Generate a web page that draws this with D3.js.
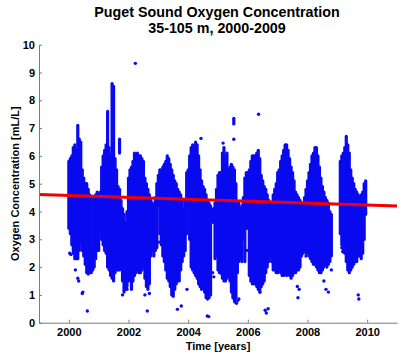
<!DOCTYPE html>
<html><head><meta charset="utf-8">
<script src="https://cdn.jsdelivr.net/npm/d3@7"></script>
<style>
html,body{margin:0;padding:0;background:#fff;}
svg{display:block;font-family:"Liberation Sans",Arial,Helvetica,sans-serif;}
</style></head>
<body>
<svg id="chart" width="413" height="356"></svg>
<script>
// ---- data ----
const titleLines = ["Puget Sound Oxygen Concentration", "35-105 m, 2000-2009"];
const xLabel = "Time [years]";
const yLabel = "Oxygen Concentration [mL/L]";
const xTicks = [2000, 2002, 2004, 2006, 2008, 2010];
const yTicks = [0,1,2,3,4,5,6,7,8,9,10];

// dense observation bands: time, lowest and highest value at that time
const bandYear = [
 2000.00,2000.05,2000.10,2000.15,2000.20,2000.25,2000.30,2000.35,2000.40,2000.45,2000.50,2000.55,2000.60,2000.65,2000.70,2000.75,2000.80,2000.85,2000.90,2000.95,
 2001.00,2001.05,2001.10,2001.15,2001.20,2001.25,2001.30,2001.35,2001.40,2001.45,2001.50,2001.55,2001.60,2001.65,2001.70,2001.75,2001.80,2001.85,2001.90,2001.95,
 2002.00,2002.05,2002.10,2002.15,2002.20,2002.25,2002.30,2002.35,2002.40,2002.45,2002.50,2002.55,2002.60,2002.65,2002.70,2002.75,2002.80,2002.85,2002.90,2002.95,
 2003.00,2003.05,2003.10,2003.15,2003.20,2003.25,2003.30,2003.35,2003.40,2003.45,2003.50,2003.55,2003.60,2003.65,2003.70,2003.75,2003.80,2003.85,2003.90,2003.95,
 2004.00,2004.05,2004.10,2004.15,2004.20,2004.25,2004.30,2004.35,2004.40,2004.45,2004.50,2004.55,2004.60,2004.65,2004.70,2004.75,2004.80,2004.85,2004.90,2004.95,
 2005.00,2005.05,2005.10,2005.15,2005.20,2005.25,2005.30,2005.35,2005.40,2005.45,2005.50,2005.55,2005.60,2005.65,2005.70,2005.75,2005.80,2005.85,2005.90,2005.95,
 2006.00,2006.05,2006.10,2006.15,2006.20,2006.25,2006.30,2006.35,2006.40,2006.45,2006.50,2006.55,2006.60,2006.65,2006.70,2006.75,2006.80,2006.85,2006.90,2006.95,
 2007.00,2007.05,2007.10,2007.15,2007.20,2007.25,2007.30,2007.35,2007.40,2007.45,2007.50,2007.55,2007.60,2007.65,2007.70,2007.75,2007.80,2007.85,2007.90,2007.95,
 2008.00,2008.05,2008.10,2008.15,2008.20,2008.25,2008.30,2008.35,2008.40,2008.45,2008.50,2008.55,2008.60,2008.65,2008.70,2008.75,2008.80,
 2009.10,2009.15,2009.20,2009.25,2009.30,2009.35,2009.40,2009.45,2009.50,2009.55,2009.60,2009.65,2009.70,2009.75,2009.80,2009.85,2009.90,2009.95,
 2001.70,2005.53
];
const bandLow = [
 3.4,3.2,2.8,2.5,2.3,2.3,2.3,2.6,2.9,2.6,2.4,2.1,1.8,1.75,1.8,1.8,1.9,2.0,2.3,2.6,
 2.6,3.3,3.0,2.8,2.6,2.5,2.0,1.9,1.7,1.6,1.5,1.8,1.9,1.9,1.9,2.1,1.5,1.1,1.2,1.3,
 1.5,1.6,1.2,1.5,1.7,1.8,1.9,1.8,1.8,1.9,2.0,1.6,1.3,1.2,1.4,2.4,2.6,2.4,2.6,2.7,
 4.2,3.2,2.8,2.4,2.2,1.9,1.6,1.5,1.3,1.0,0.95,1.2,1.4,1.5,1.5,1.9,2.2,2.4,2.6,3.2,
 4.2,3.0,2.0,1.9,1.8,1.7,1.6,1.4,1.3,1.2,1.3,1.1,0.9,0.85,0.9,1.0,3.8,3.6,2.3,2.4,
 1.9,1.8,1.8,1.6,1.5,1.5,1.6,1.7,1.5,1.1,0.9,0.8,0.9,1.8,2.2,2.3,2.2,3.0,2.2,3.4,
 3.4,1.7,1.5,1.4,1.4,1.4,1.3,1.2,1.1,1.3,1.4,1.5,1.8,2.0,2.2,2.4,2.2,1.9,1.9,1.8,
 1.8,1.9,1.8,1.7,1.7,1.8,1.7,1.8,1.7,1.6,1.7,1.8,1.8,1.9,1.9,2.0,2.4,2.5,2.6,2.5,
 2.5,2.4,2.3,2.2,2.1,2.1,2.0,1.9,1.8,1.8,1.9,2.0,2.1,2.0,2.1,2.2,2.4,
 3.2,2.8,2.6,2.5,2.2,1.9,1.8,1.9,2.0,2.1,2.2,2.2,2.4,2.4,2.3,2.5,3.0,3.9,
 6.1,7.15
];
const bandHigh = [
 5.8,5.9,6.0,6.3,6.4,6.2,7.1,6.6,6.5,5.5,5.2,5.0,5.0,4.8,4.6,4.5,4.4,4.5,4.6,4.7,
 4.6,4.7,5.6,6.0,6.2,6.4,7.6,6.3,6.0,8.6,8.5,5.9,5.5,4.9,4.8,4.4,4.1,3.9,3.6,4.0,
 5.2,5.5,5.6,5.8,6.1,6.0,6.1,6.0,6.0,5.9,5.8,5.2,5.0,4.8,4.6,4.4,4.3,4.2,4.5,5.0,
 5.3,5.5,5.5,5.6,5.7,5.8,6.0,5.9,5.7,5.5,5.3,5.1,5.0,4.8,4.7,4.6,4.4,4.1,4.4,5.4,
 5.5,6.0,6.3,6.4,6.3,6.5,6.4,6.0,5.5,5.1,4.9,4.8,4.6,4.4,4.3,4.2,4.0,4.1,4.3,4.8,
 5.3,5.4,5.4,6.1,6.3,6.0,6.1,5.5,5.6,5.7,5.6,5.5,5.0,4.3,4.3,4.1,4.2,4.5,5.2,5.4,
 5.4,5.5,5.8,6.0,6.0,6.0,6.1,6.2,5.9,5.3,5.1,4.9,4.8,4.6,4.4,4.3,4.3,4.6,4.8,5.0,
 5.4,5.5,5.8,6.0,6.2,6.4,6.4,6.2,5.9,5.6,5.4,5.1,4.7,4.6,4.5,4.4,4.3,4.3,4.5,4.8,
 5.1,5.4,5.7,6.0,6.1,6.3,6.3,6.0,5.6,5.2,4.9,4.7,4.5,4.4,4.3,4.0,3.9,
 5.8,6.0,6.1,6.3,6.7,6.4,6.1,5.5,5.2,5.0,4.8,4.7,4.6,4.5,4.6,4.7,5.0,5.1,
 6.6,7.35
];

// isolated observations
const pointYear = [2000.03,2000.07,2000.22,2000.30,2000.33,2000.45,2000.47,2000.62,2001.80,2001.95,
 2002.23,2002.55,2002.63,2002.70,2003.64,2003.77,2003.96,2004.43,2004.64,2004.69,
 2005.08,2005.13,2005.17,2005.53,2005.56,2005.62,2005.66,2005.70,2006.36,2006.41,
 2006.58,2006.62,2006.68,2007.02,2007.66,2007.68,2007.72,2007.95,2008.55,2008.62,
 2008.70,2008.80,2009.15,2009.18,2009.70,2009.72,
 2004.82,2004.86,2003.02,2005.97];
const pointValue = [2.5,2.45,1.9,1.6,1.5,1.05,1.1,0.42,1.0,1.2,
 9.33,1.0,0.42,1.05,0.48,0.6,1.2,6.63,0.24,0.22,
 1.8,1.75,6.46,6.6,0.75,0.7,0.8,0.85,7.5,1.1,
 0.45,0.35,0.5,2.0,1.3,0.9,1.2,2.4,1.5,1.2,
 1.1,1.9,2.7,2.55,1.0,0.85,
 1.8,1.65,2.9,2.6];

// linear trend line end points
const trendYear = [1999, 2011];
const trendValue = [4.61, 4.20];

// ---- drawing ----
const svg = d3.select("#chart");
const x = d3.scaleLinear().domain([1999, 2011]).range([39, 397]);
const y = d3.scaleLinear().domain([0, 10]).range([322.7, 44.7]);
const blue = "#0a0af0";

const bands = bandYear.map((t,i)=>({t, lo:bandLow[i], hi:bandHigh[i]}));
svg.append("g").selectAll("line").data(bands).join("line")
  .attr("x1", d=>x(d.t)).attr("x2", d=>x(d.t))
  .attr("y1", d=>y(d.lo)).attr("y2", d=>y(d.hi))
  .attr("stroke", blue).attr("stroke-width", 3.2).attr("stroke-linecap","round");

const pts = pointYear.map((t,i)=>({t, v:pointValue[i]}));
svg.append("g").selectAll("circle").data(pts).join("circle")
  .attr("cx", d=>x(d.t)).attr("cy", d=>y(d.v)).attr("r", 1.7).attr("fill", blue);

const trend = trendYear.map((t,i)=>({t, v:trendValue[i]}));
svg.append("path").datum(trend)
  .attr("d", d3.line().x(d=>x(d.t)).y(d=>y(d.v)))
  .attr("fill","none").attr("stroke","#f00000").attr("stroke-width",3);

const axisColor = "#7a7a7a";
const gx = svg.append("g").attr("transform", `translate(0,${y(0)})`)
  .call(d3.axisBottom(x).tickValues(xTicks).tickFormat(d3.format("d")).tickSizeInner(-3).tickSizeOuter(0).tickPadding(5.5));
const gy = svg.append("g").attr("transform", `translate(${x(1999)},0)`)
  .call(d3.axisLeft(y).tickValues(yTicks).tickFormat(d3.format("d")).tickSizeInner(-3).tickSizeOuter(0).tickPadding(4));
[gx, gy].forEach(g=>{
  g.select(".domain").attr("stroke", axisColor);
  g.selectAll(".tick line").attr("stroke", axisColor);
  g.selectAll(".tick text").attr("fill","#000").style("font-size","11px").style("font-weight","bold")
   .style("font-family",'"Liberation Sans",Arial,sans-serif');
});

svg.append("text").attr("x", 217).attr("y", 16.5).attr("text-anchor","middle")
  .style("font-size","14.3px").style("font-weight","bold").text(titleLines[0]);
svg.append("text").attr("x", 217).attr("y", 33.3).attr("text-anchor","middle")
  .style("font-size","14.3px").style("font-weight","bold").text(titleLines[1]);
svg.append("text").attr("x", 218).attr("y", 349.5).attr("text-anchor","middle")
  .style("font-size","11px").style("font-weight","bold").text(xLabel);
svg.append("text").attr("transform", `translate(19,${(y(0)+y(10))/2}) rotate(-90)`)
  .attr("text-anchor","middle").style("font-size","11px").style("font-weight","bold").text(yLabel);
</script>
</body></html>
